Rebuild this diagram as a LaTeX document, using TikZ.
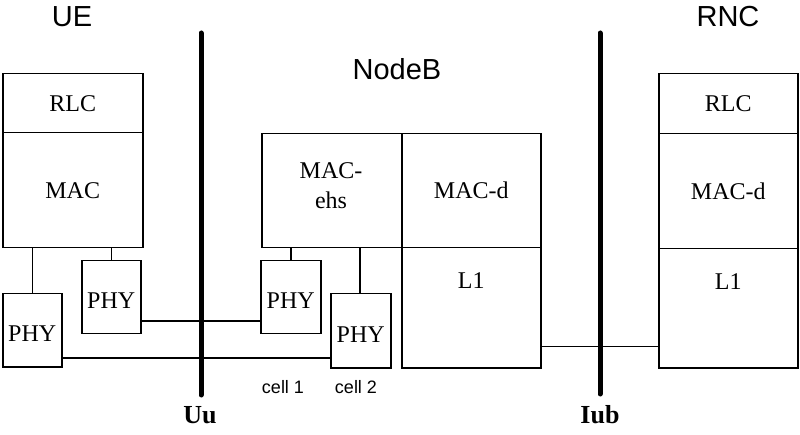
\documentclass[tikz,border=0pt]{standalone}
\usepackage{fontspec}
\setmainfont{Liberation Serif}
\newfontfamily\sansf{Liberation Sans}
\begin{document}
\begin{tikzpicture}[x=1pt,y=-1pt,
  box/.style={draw, line width=1.5pt, rectangle, inner sep=0pt, anchor=north west,
    font=\fontsize{24}{30}\selectfont},
  phybox/.style={box, text height=23pt},
  lbl/.style={font=\fontsize{24}{30}\selectfont, inner sep=0pt},
  conn/.style={line width=1.5pt},
  iface/.style={line width=5pt, line cap=round},
  title/.style={font=\sansf\fontsize{29}{34}\selectfont, anchor=base, inner sep=0pt},
  cell/.style={font=\sansf\fontsize{18}{21}\selectfont, anchor=base, inner sep=0pt},
  ifname/.style={font=\bfseries\fontsize{26}{30}\selectfont, anchor=base, inner sep=0pt}]
\useasboundingbox (0,0) rectangle (800,435);

% titles
\node[title] (tUE) at (72,27) {UE};
\node[title] (tRNC) at (728,27) {RNC};
\node[title] (tNB) at (397,80) {NodeB};

% interfaces
\coordinate (uuTop) at (201,33);
\coordinate (uuBot) at (201,395);
\coordinate (iubTop) at (600,33);
\coordinate (iubBot) at (600,394);
\draw[iface] (uuTop) -- (uuBot);
\draw[iface] (iubTop) -- (iubBot);
\node[ifname] (tUu) at (200,423) {Uu};
\node[ifname] (tIub) at (600,423) {Iub};

% UE
\node[box, minimum width=140pt, minimum height=59pt] (ueRLC) at (2,73) {RLC};
\node[box, minimum width=140pt, minimum height=115pt] (ueMAC) at (2,132) {MAC};
\node[phybox, minimum width=59pt, minimum height=73pt] (phyA) at (2,293) {PHY};
\node[phybox, minimum width=59pt, minimum height=73pt] (phyB) at (81,260) {PHY};

% NodeB
\node[box, minimum width=140pt, minimum height=114pt] (nbMACehs) at (261,133) {};
\node[lbl, align=center] (nbMACehsT) at (331,186) {MAC-\\ehs};
\node[box, minimum width=139pt, minimum height=114pt] (nbMACd) at (401,133) {MAC-d};
\node[box, minimum width=139pt, minimum height=120pt] (nbL1) at (401,247) {};
\node[lbl] (nbL1T) at ([yshift=-34pt]nbL1.north) {L1};
\node[phybox, minimum width=60pt, minimum height=73pt] (phy1) at (260,260) {PHY};
\node[phybox, minimum width=60pt, minimum height=74pt] (phy2) at (330,293) {PHY};

% RNC
\node[box, minimum width=139pt, minimum height=60pt] (rncRLC) at (658,73) {RLC};
\node[box, minimum width=139pt, minimum height=115pt] (rncMACd) at (658,133) {MAC-d};
\node[box, minimum width=139pt, minimum height=119pt] (rncL1) at (658,248) {};
\node[lbl] (rncL1T) at ([yshift=-34pt]rncL1.north) {L1};

% cells
\node[cell] (c1) at (283,393) {cell 1};
\node[cell] (c2) at (356,393) {cell 2};

% connectors
\coordinate (hA) at (0,321);
\coordinate (hB) at (0,358);
\coordinate (hC) at (0,346.5);
\draw[conn] (phyA.north) -- (phyA.north |- ueMAC.south);
\draw[conn] (phyB.north) -- (phyB.north |- ueMAC.south);
\draw[conn] (phy1.north) -- (phy1.north |- nbMACehs.south);
\draw[conn] ([xshift=-1pt]phy2.north) -- ([xshift=-1pt]phy2.north |- nbMACehs.south);
\draw[conn] (phyB.east |- hA) -- (phy1.west |- hA);
\draw[conn] (phyA.east |- hB) -- (phy2.west |- hB);
\draw[conn] (nbL1.east |- hC) -- (rncL1.west |- hC);
\end{tikzpicture}
\end{document}
